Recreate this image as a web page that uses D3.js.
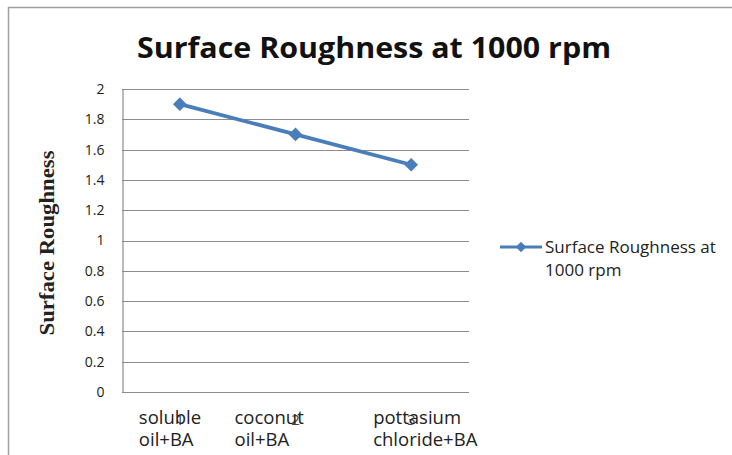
<!DOCTYPE html>
<html>
<head>
<meta charset="utf-8">
<script src="https://cdn.jsdelivr.net/npm/d3@7"></script>
<style>
	body { margin: 0; background: #fff; }
	svg { display: block; font-family: "Open Sans", sans-serif; }
</style>
</head>
<body>
<svg id="chart" width="732" height="455"></svg>
<script>
// data
const categories = ["1", "2", "3"];
const categoryLabels = [["soluble", "oil+BA"], ["coconut", "oil+BA"], ["pottasium", "chloride+BA"]];
const values = [1.9, 1.7, 1.5];
const yTicks = [0, 0.2, 0.4, 0.6, 0.8, 1, 1.2, 1.4, 1.6, 1.8, 2];
const seriesName = "Surface Roughness at 1000 rpm";

const svg = d3.select("#chart");
const lineColor = "#4a7ebb";

// outer frame (runs off the right and bottom edge)
svg.append("path")
	.attr("d", "M8.5,460 V7.5 H740")
	.attr("fill", "none")
	.attr("stroke", "#a0a0a0")
	.attr("stroke-width", 1.5);

const plot = { left: 122, right: 469, top: 89, bottom: 392 };

const x = d3.scaleBand()
	.domain(categories)
	.range([plot.left, plot.right]);

const y = d3.scaleLinear()
	.domain([0, 2])
	.range([plot.bottom, plot.top]);

// title
svg.append("text")
	.attr("x", 374)
	.attr("y", 58)
	.attr("text-anchor", "middle")
	.attr("font-size", 28)
	.attr("font-weight", "bold")
	.attr("fill", "#111")
	.attr("textLength", 474)
	.attr("lengthAdjust", "spacingAndGlyphs")
	.text(seriesName);

// gridlines
svg.append("g")
	.selectAll("line")
	.data(yTicks)
	.enter().append("line")
	.attr("x1", plot.left)
	.attr("x2", plot.right)
	.attr("y1", d => Math.round(y(d)) + 0.5)
	.attr("y2", d => Math.round(y(d)) + 0.5)
	.attr("stroke", "#8c8c8c")
	.attr("stroke-width", 1.2);

// y axis
const yAxis = svg.append("g")
	.attr("transform", `translate(${plot.left + 0.5},0)`)
	.call(d3.axisLeft(y).tickValues(yTicks).tickSize(0).tickPadding(18).tickFormat(d3.format("")));
yAxis.select(".domain").attr("stroke", "#8c8c8c").attr("stroke-width", 1.2);
yAxis.selectAll("text")
	.attr("font-size", 14)
	.attr("fill", "#222")
	.attr("font-family", "Open Sans, sans-serif");

// y axis title
svg.append("text")
	.attr("transform", "translate(54,243) rotate(-90)")
	.attr("text-anchor", "middle")
	.attr("font-family", "Liberation Serif, DejaVu Serif, serif")
	.attr("font-weight", "bold")
	.attr("font-size", 21)
	.attr("fill", "#222")
	.attr("textLength", 185)
	.attr("lengthAdjust", "spacingAndGlyphs")
	.text("Surface Roughness");

// x axis: numbers plus overlaid category names
const xAxis = svg.append("g")
	.attr("transform", `translate(0,${plot.bottom})`)
	.call(d3.axisBottom(x).tickSize(0).tickPadding(22));
xAxis.select(".domain").remove();
xAxis.selectAll("text")
	.attr("font-size", 15)
	.attr("fill", "#444")
	.attr("font-family", "Open Sans, sans-serif");

const labelOffsets = [-41, -61, -38];
svg.append("g")
	.selectAll("text")
	.data(categoryLabels)
	.enter().append("text")
	.attr("x", (d, i) => x(categories[i]) + x.bandwidth() / 2 + labelOffsets[i])
	.attr("y", 424)
	.attr("font-size", 18.5)
	.attr("fill", "#222")
	.selectAll("tspan")
	.data(d => d)
	.enter().append("tspan")
	.attr("x", function() { return d3.select(this.parentNode).attr("x"); })
	.attr("dy", (d, i) => i === 0 ? 0 : 22)
	.text(d => d);

// series line
const line = d3.line()
	.x((d, i) => x(categories[i]) + x.bandwidth() / 2)
	.y(d => y(d));

svg.append("path")
	.datum(values)
	.attr("d", line)
	.attr("fill", "none")
	.attr("stroke", lineColor)
	.attr("stroke-width", 3.8);

const diamond = d3.symbol().type(d3.symbolDiamond2).size(120);
svg.append("g")
	.selectAll("path")
	.data(values)
	.enter().append("path")
	.attr("d", diamond)
	.attr("transform", (d, i) => `translate(${x(categories[i]) + x.bandwidth() / 2},${y(d)})`)
	.attr("fill", lineColor);

// legend
const legend = svg.append("g").attr("transform", "translate(500,247)");
legend.append("line")
	.attr("x1", 0).attr("x2", 42)
	.attr("stroke", lineColor)
	.attr("stroke-width", 3);
legend.append("path")
	.attr("d", d3.symbol().type(d3.symbolDiamond2).size(70))
	.attr("transform", "translate(21,0)")
	.attr("fill", lineColor);
legend.append("text")
	.attr("x", 45)
	.attr("y", 6)
	.attr("font-size", 17)
	.attr("fill", "#222")
	.selectAll("tspan")
	.data(["Surface Roughness at", "1000 rpm"])
	.enter().append("tspan")
	.attr("x", 45)
	.attr("dy", (d, i) => i === 0 ? 0 : 23)
	.text(d => d);
</script>
</body>
</html>
